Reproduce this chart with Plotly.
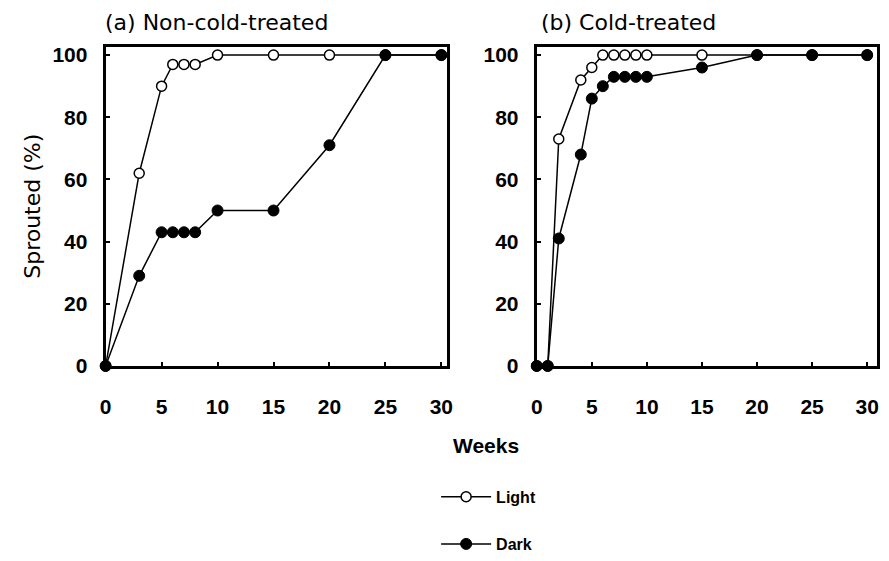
import plotly.graph_objects as go

# Panel (a) Non-cold-treated
a_light_x = [0, 3, 5, 6, 7, 8, 10, 15, 20, 25, 30]
a_light_y = [0, 62, 90, 97, 97, 97, 100, 100, 100, 100, 100]
a_dark_x = [0, 3, 5, 6, 7, 8, 10, 15, 20, 25, 30]
a_dark_y = [0, 29, 43, 43, 43, 43, 50, 50, 71, 100, 100]

# Panel (b) Cold-treated
b_light_x = [0, 1, 2, 4, 5, 6, 7, 8, 9, 10, 15, 20, 25, 30]
b_light_y = [0, 0, 73, 92, 96, 100, 100, 100, 100, 100, 100, 100, 100, 100]
b_dark_x = [0, 1, 2, 4, 5, 6, 7, 8, 9, 10, 15, 20, 25, 30]
b_dark_y = [0, 0, 41, 68, 86, 90, 93, 93, 93, 93, 96, 100, 100, 100]

x_ticks = [0, 5, 10, 15, 20, 25, 30]
y_ticks = [0, 20, 40, 60, 80, 100]

W, H = 889, 561
FONT = "Liberation Sans, Arial, sans-serif"
WIDE = "DejaVu Sans, sans-serif"

fig = go.Figure()

light_style = dict(mode="lines+markers", line=dict(color="black", width=1.5),
                   marker=dict(symbol="circle", size=10, color="white",
                               line=dict(color="black", width=1.5)),
                   cliponaxis=False)
dark_style = dict(mode="lines+markers", line=dict(color="black", width=1.5),
                  marker=dict(symbol="circle", size=11, color="black",
                              line=dict(color="black", width=1)),
                  cliponaxis=False)

fig.add_trace(go.Scatter(x=a_light_x, y=a_light_y, name="Light", legend="legend",
                         xaxis="x", yaxis="y", **light_style))
fig.add_trace(go.Scatter(x=a_dark_x, y=a_dark_y, name="Dark", legend="legend2",
                         xaxis="x", yaxis="y", **dark_style))
fig.add_trace(go.Scatter(x=b_light_x, y=b_light_y, name="Light", showlegend=False,
                         xaxis="x2", yaxis="y2", **light_style))
fig.add_trace(go.Scatter(x=b_dark_x, y=b_dark_y, name="Dark", showlegend=False,
                         xaxis="x2", yaxis="y2", **dark_style))

tickfont = dict(family=FONT, size=21, color="black", weight="bold")

def xaxis(dom, rng, anchor):
    return dict(domain=dom, range=rng, anchor=anchor, tickvals=x_ticks,
                showline=True, linewidth=3, linecolor="black", mirror=True,
                ticks="inside", ticklen=4, tickwidth=2, tickcolor="black",
                showgrid=False, zeroline=False, tickfont=tickfont,
                ticklabelstandoff=20)

def yaxis(rng, anchor):
    return dict(domain=[1 - 376 / H, 1 - 45 / H], range=rng, anchor=anchor,
                tickvals=y_ticks, showline=True, linewidth=3, linecolor="black",
                mirror=True, ticks="inside", ticklen=4, tickwidth=2,
                tickcolor="black", showgrid=False, zeroline=False,
                tickfont=tickfont, ticklabelstandoff=11)

legend_common = dict(xanchor="left", yanchor="middle", bgcolor="rgba(0,0,0,0)",
                     font=dict(family=FONT, size=16, color="black", weight="bold"),
                     itemwidth=50, xref="paper", yref="paper")

fig.update_layout(
    width=W, height=H,
    margin=dict(l=0, r=0, t=0, b=0),
    paper_bgcolor="white", plot_bgcolor="white",
    xaxis=xaxis([101 / W, 447 / W], [0, 30.5], "y"),
    yaxis=yaxis([0, 102.5], "x"),
    xaxis2=xaxis([538 / W, 883 / W], [0, 30.9], "y2"),
    yaxis2=yaxis([0, 102.5], "x2"),
    legend=dict(x=436 / W, y=1 - 512 / H, **legend_common),
    legend2=dict(x=436 / W, y=1 - 561 / H, **legend_common),
    annotations=[
        dict(text="(a) Non-cold-treated", x=98 / W, y=1 - 19 / H, xref="paper", yref="paper",
             xanchor="left", yanchor="middle", showarrow=False,
             font=dict(family=WIDE, size=22, color="black")),
        dict(text="(b) Cold-treated", x=540 / W, y=1 - 19 / H, xref="paper", yref="paper",
             xanchor="left", yanchor="middle", showarrow=False,
             font=dict(family=WIDE, size=22, color="black")),
        dict(text="Sprouted (%)", x=26 / W, y=1 - 210 / H, xref="paper", yref="paper",
             xanchor="center", yanchor="middle", showarrow=False, textangle=-90,
             font=dict(family=WIDE, size=22, color="black")),
        dict(text="Weeks", x=487 / W, y=1 - 459 / H, xref="paper", yref="paper",
             xanchor="center", yanchor="middle", showarrow=False,
             font=dict(family=FONT, size=21, color="black", weight="bold")),
    ],
)

fig.write_html("out.html")
